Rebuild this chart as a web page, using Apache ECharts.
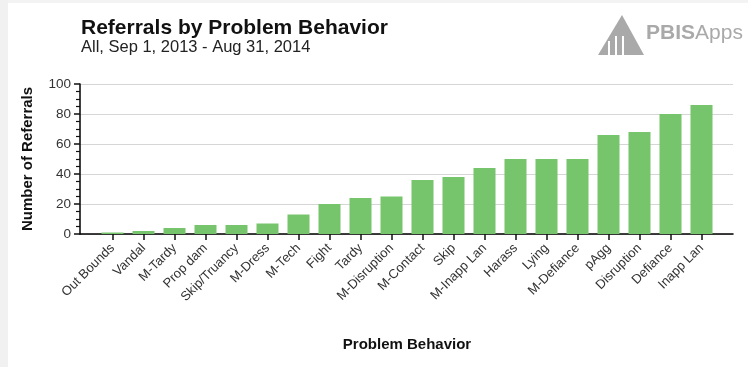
<!DOCTYPE html>
<html>
<head>
<meta charset="utf-8">
<script src="https://cdn.jsdelivr.net/npm/echarts@6/dist/echarts.min.js"></script>
<style>
  html, body { margin: 0; padding: 0; background: #fff; }
  #chart { width: 748px; height: 367px; }
</style>
</head>
<body>
<div id="chart"></div>
<script>
// Referral counts per problem behavior, school year 2013-2014
const behaviors = ['Out Bounds', 'Vandal', 'M-Tardy', 'Prop dam', 'Skip/Truancy', 'M-Dress', 'M-Tech',
  'Fight', 'Tardy', 'M-Disruption', 'M-Contact', 'Skip', 'M-Inapp Lan', 'Harass', 'Lying',
  'M-Defiance', 'pAgg', 'Disruption', 'Defiance', 'Inapp Lan'];
const referrals = [1, 2, 4, 6, 6, 7, 13, 20, 24, 25, 36, 38, 44, 50, 50, 50, 66, 68, 80, 86];
const yTicks = [0, 20, 40, 60, 80, 100];

const FONT = '"Liberation Sans", Arial, sans-serif';
const TOP = 84, BOTTOM = 133;

const chart = echarts.init(document.getElementById('chart'), null, { renderer: 'canvas' });

chart.setOption({
  animation: false,
  backgroundColor: '#ffffff',
  textStyle: { fontFamily: FONT },
  title: {
    text: 'Referrals by Problem Behavior',
    subtext: 'All, Sep 1, 2013 - Aug 31, 2014',
    left: 76, top: 13,
    itemGap: 0,
    textStyle: { fontFamily: FONT, fontSize: 21, fontWeight: 'bold', color: '#111' },
    subtextStyle: { fontFamily: FONT, fontSize: 16.5, color: '#222' }
  },
  graphic: [
    // page frame
    { type: 'rect', left: 0, top: 0, shape: { width: 748, height: 3 }, style: { fill: '#f3f3f3' }, silent: true },
    { type: 'rect', left: 0, top: 0, shape: { width: 8, height: 367 }, style: { fill: '#f1f1f1' }, silent: true },
    // PBISApps logo
    {
      type: 'group', left: 598, top: 15, silent: true,
      children: [
        { type: 'polygon', shape: { points: [[26, 0], [48, 40], [2, 40]] }, style: { fill: '#a9a9a9' } },
        { type: 'rect', shape: { x: 12, y: 26, width: 2, height: 14 }, style: { fill: '#fff' } },
        { type: 'rect', shape: { x: 19, y: 21, width: 2, height: 19 }, style: { fill: '#fff' } },
        { type: 'rect', shape: { x: 26, y: 21, width: 2, height: 19 }, style: { fill: '#fff' } },
        {
          type: 'text', x: 50, y: 8,
          style: {
            text: '{b|PBIS}{n|Apps}',
            rich: {
              b: { fontFamily: FONT, fontSize: 21, fontWeight: 'bold', fill: '#a9a9a9' },
              n: { fontFamily: FONT, fontSize: 21, fill: '#a9a9a9' }
            }
          }
        }
      ]
    }
  ],
  grid: [
    { left: 80, right: 15, top: TOP, bottom: BOTTOM },
    { left: 97, right: 31, top: TOP, bottom: BOTTOM }
  ],
  xAxis: [
    {
      gridIndex: 0, type: 'value', min: 0, max: 1,
      axisLine: { show: true, onZero: false, lineStyle: { color: '#000', width: 1.5 } },
      axisTick: { show: false }, axisLabel: { show: false }, splitLine: { show: false }
    },
    {
      gridIndex: 1, type: 'category', data: behaviors,
      axisLine: { show: false },
      axisTick: { show: true, alignWithLabel: true, length: 6, lineStyle: { color: '#111', width: 1.5 } },
      axisLabel: { rotate: 45, fontSize: 13, color: '#333', margin: 12, interval: 0, fontFamily: FONT },
      name: 'Problem Behavior', nameLocation: 'middle', nameGap: 103,
      nameTextStyle: { fontFamily: FONT, fontSize: 15, fontWeight: 'bold', color: '#111' }
    }
  ],
  yAxis: [
    {
      gridIndex: 0, type: 'value', min: yTicks[0], max: yTicks[yTicks.length - 1], interval: 20,
      axisLine: { show: true, lineStyle: { color: '#000', width: 1.5 } },
      axisTick: { show: true, length: 6, lineStyle: { color: '#111', width: 1.5 } },
      minorTick: { show: true, splitNumber: 4, length: 4, lineStyle: { color: '#111', width: 1.2 } },
      axisLabel: { fontSize: 13.5, color: '#333', margin: 9, fontFamily: FONT },
      splitLine: { show: true, lineStyle: { color: '#d6d6d6', width: 1.2 } },
      name: 'Number of Referrals', nameLocation: 'middle', nameGap: 44.5, nameRotate: 90,
      nameTextStyle: { fontFamily: FONT, fontSize: 15, fontWeight: 'bold', color: '#111' }
    },
    {
      gridIndex: 1, type: 'value', min: yTicks[0], max: yTicks[yTicks.length - 1], show: false
    }
  ],
  series: [
    {
      type: 'bar', xAxisIndex: 1, yAxisIndex: 1,
      data: referrals, barWidth: 22,
      itemStyle: { color: '#76c46b' }
    }
  ]
});
</script>
</body>
</html>
